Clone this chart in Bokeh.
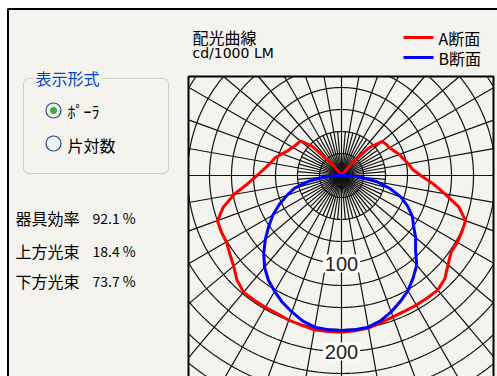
import numpy as np
from bokeh.plotting import figure
from bokeh.models import Range1d
from bokeh.core.properties import value
from bokeh.embed import file_html
from bokeh.resources import INLINE

# ---------------- data (cd/1000 lm), angle from nadir ----------------
angles = list(range(0, 185, 5))  # 0..180 deg
red_right = [178, 177, 176, 173, 171, 170, 170, 170, 170, 166, 158, 152, 152, 151, 150, 138,
             119, 104, 90, 81, 77, 73, 70, 66, 63, 62, 60, 45, 18, 3, 0, 0, 0, 0, 0, 0, 0]
red_left = [178, 178, 178, 176, 175, 173, 173, 173, 173, 168, 160, 155, 151, 151, 150, 139,
            124, 107, 96, 88, 82, 78, 72, 67, 64, 62, 61, 47, 20, 4, 0, 0, 0, 0, 0, 0, 0]
blue_right = [176, 176, 175, 171, 165, 158, 151, 142, 133, 119, 110, 100, 93, 83, 72, 57,
              41, 22, 5] + [0] * 18
blue_left = [176, 176, 175, 171, 165, 159, 152, 145, 136, 125, 113, 101, 90, 78, 66, 55,
             38, 20, 5] + [0] * 18

ring_step = 25
ring_max = 300
ring_labels = [100, 200]
series_names = ["A断面", "B断面"]
series_colors = ["#ff0000", "#0000ff"]

panel_title = "表示形式"
radio_items = ["ﾎﾟｰﾗ", "片対数"]
stat_names = ["器具効率", "上方光束", "下方光束"]
stat_values = ["92.1 %", "18.4 %", "73.7 %"]
chart_title = "配光曲線"
chart_unit = "cd/1000 LM"

# ---------------- layout (page pixels) ----------------
W, H = 497, 376
CX, CY = 341, 175      # polar centre
S = 0.88               # pixels per cd
BOX_L, BOX_R, BOX_T = 188, 493, 76
BG = "#f4f3ee"
JP = value("Noto Sans CJK JP")

p = figure(width=W, height=H, output_backend="svg", toolbar_location=None,
           x_range=Range1d(-CX / S, (W - CX) / S), y_range=Range1d(-(H - CY) / S, CY / S),
           x_axis_location=None, y_axis_location=None, min_border=0)
p.extra_x_ranges = {"px": Range1d(0, W)}
p.extra_y_ranges = {"px": Range1d(H, 0)}
p.grid.visible = False
p.outline_line_color = None
p.background_fill_color = "white"
p.border_fill_color = "white"

PX = dict(x_range_name="px", y_range_name="px")

# window panel background + frame
p.quad(left=[8], right=[W + 5], top=[9], bottom=[H + 5], fill_color=BG, line_color=None, **PX)

# box limits in cd
bl = (BOX_L - CX) / S
br = (BOX_R - CX) / S
bt = (CY - BOX_T) / S


def inside(x, y):
    return (x >= bl) & (x <= br) & (y <= bt)


def polar_xy(theta_deg, r):
    t = np.radians(np.asarray(theta_deg, dtype=float))
    r = np.asarray(r, dtype=float)
    return r * np.sin(t), -r * np.cos(t)


# rings
gx, gy = [], []
th = np.arange(0, 360.25, 0.25)
for R in range(ring_step, ring_max + 1, ring_step):
    x, y = polar_xy(th, np.full_like(th, R))
    m = inside(x, y)
    seg_x, seg_y = [], []
    for xi, yi, mi in zip(x, y, m):
        if mi:
            seg_x.append(xi)
            seg_y.append(yi)
        else:
            if len(seg_x) > 1:
                gx.append(seg_x)
                gy.append(seg_y)
            seg_x, seg_y = [], []
    if len(seg_x) > 1:
        gx.append(seg_x)
        gy.append(seg_y)

# radial spokes
for a in range(0, 360, 10):
    t = np.radians(a)
    dx, dy = np.sin(t), -np.cos(t)
    cand = [400.0]
    if dx > 1e-9:
        cand.append(br / dx)
    if dx < -1e-9:
        cand.append(bl / dx)
    if dy > 1e-9:
        cand.append(bt / dy)
    L = min(cand)
    gx.append([0, L * dx])
    gy.append([0, L * dy])
for a in range(5, 360, 10):
    t = np.radians(a)
    gx.append([0, 50 * np.sin(t)])
    gy.append([0, -50 * np.cos(t)])

p.multi_line(gx, gy, line_color="#111111", line_width=1.2)

# ring labels
lx, ly = polar_xy([0] * len(ring_labels), ring_labels)
p.text(x=list(lx), y=list(ly), text=[str(v) for v in ring_labels],
       text_font=value("Liberation Sans"), text_font_size="20px",
       text_align="center", text_baseline="middle", text_color="#222222",
       background_fill_color="white", padding=2)

# curves
def full_curve(left, right):
    th_l = [-a for a in angles[::-1]]
    r_l = left[::-1]
    th_all = th_l + angles[1:]
    r_all = r_l + right[1:]
    return polar_xy(th_all, r_all)


rx, ry = full_curve(red_left, red_right)
bx, by = full_curve(blue_left, blue_right)
p.line(rx, ry, line_color=series_colors[0], line_width=3)
p.line(bx, by, line_color=series_colors[1], line_width=3)

# polar box frame and outer window frame
p.multi_line([[BOX_L, BOX_L, BOX_R, BOX_R], [7.5, 7.5, W + 5]],
             [[H + 5, BOX_T, BOX_T, H + 5], [H + 5, 8.5, 8.5]],
             line_color="black", line_width=2, **PX)

# titles / legend
p.text(x=[192], y=[36], text=[chart_title], text_font=JP, text_font_size="16px",
       text_baseline="middle", text_color="black", **PX)
p.text(x=[192], y=[52], text=[chart_unit], text_font=value("DejaVu Sans"),
       text_font_size="14px", text_baseline="middle", text_color="black", **PX)
p.multi_line([[403, 433], [403, 433]], [[37, 37], [57, 57]],
             line_color=series_colors, line_width=3, **PX)
p.text(x=[438, 438], y=[37, 57], text=series_names, text_font=JP, text_font_size="16px",
       text_baseline="middle", text_color="black", **PX)

# group box
p.quad(left=[23], right=[168], top=[78], bottom=[173], fill_color=None,
       line_color="#cfcfbf", line_width=1, border_radius=5, **PX)
p.text(x=[33], y=[77], text=[panel_title], text_font=JP, text_font_size="16px",
       text_baseline="middle", text_color="#0046d5", background_fill_color=BG,
       padding=2, **PX)
p.scatter(x=[53, 53], y=[110, 143], size=15, marker="circle", fill_color="#f2f2f2",
          line_color="#1c5180", line_width=1.2, **PX)
p.scatter(x=[53], y=[110], size=6, marker="circle", fill_color="#2fb52f",
          line_color="#2a9a2a", **PX)
p.text(x=[67, 67], y=[110, 144], text=radio_items, text_font=JP, text_font_size="16px",
       text_baseline="middle", text_color="black", **PX)

# stats
ys = [217, 250, 280]
p.text(x=[15] * 3, y=ys, text=stat_names, text_font=JP, text_font_size="16px",
       text_baseline="middle", text_color="black", **PX)
p.text(x=[92] * 3, y=ys, text=stat_values, text_font=JP, text_font_size="14px",
       text_baseline="middle", text_color="black", **PX)

open("out.html", "w").write(file_html(p, INLINE))
